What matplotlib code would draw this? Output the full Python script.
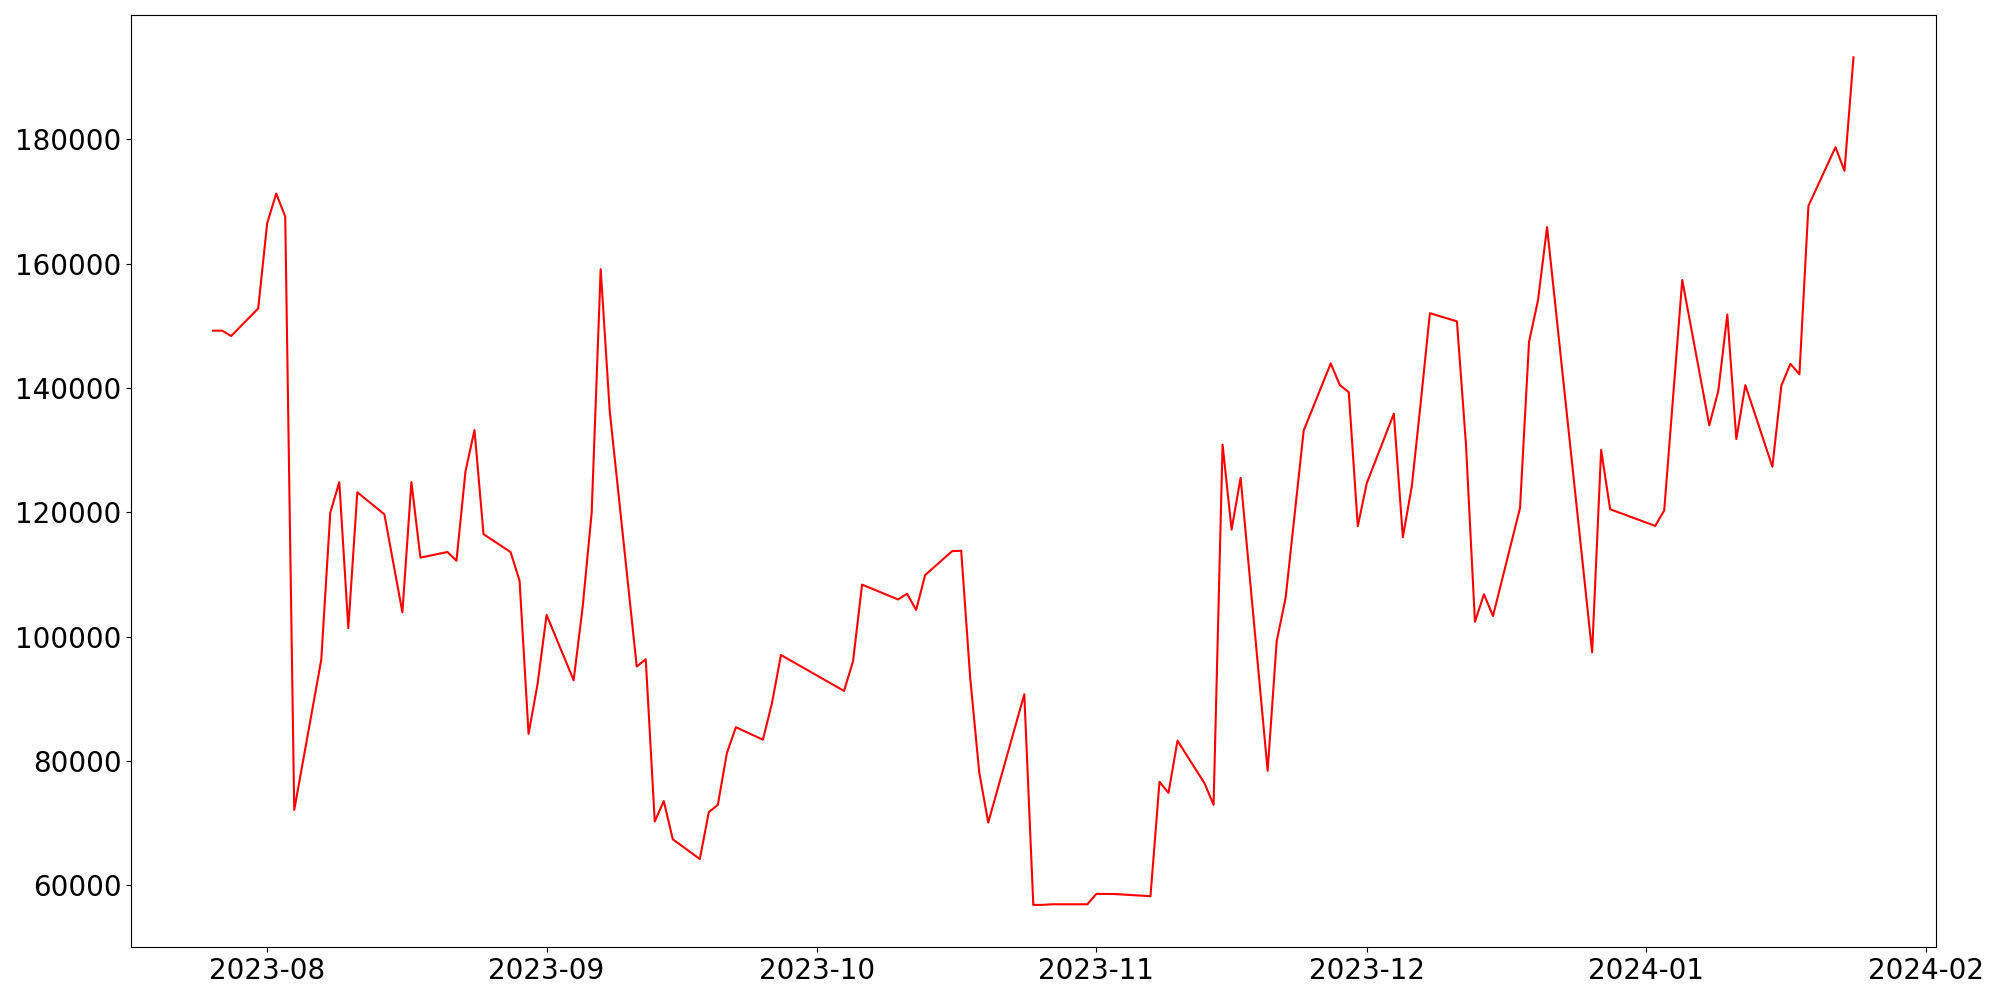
import matplotlib
matplotlib.use("Agg")
import matplotlib.pyplot as plt
import matplotlib.dates as mdates
import pandas as pd

dates = [
    "2023-07-26", "2023-07-27", "2023-07-28", "2023-07-31", "2023-08-01", "2023-08-02",
    "2023-08-03", "2023-08-04", "2023-08-07", "2023-08-08", "2023-08-09", "2023-08-10",
    "2023-08-11", "2023-08-14", "2023-08-16", "2023-08-17", "2023-08-18", "2023-08-21",
    "2023-08-22", "2023-08-23", "2023-08-24", "2023-08-25", "2023-08-28", "2023-08-29",
    "2023-08-30", "2023-08-31", "2023-09-01", "2023-09-04", "2023-09-05", "2023-09-06",
    "2023-09-07", "2023-09-08", "2023-09-11", "2023-09-12", "2023-09-13", "2023-09-14",
    "2023-09-15", "2023-09-18", "2023-09-19", "2023-09-20", "2023-09-21", "2023-09-22",
    "2023-09-25", "2023-09-26", "2023-09-27", "2023-10-04", "2023-10-05", "2023-10-06",
    "2023-10-10", "2023-10-11", "2023-10-12", "2023-10-13", "2023-10-16", "2023-10-17",
    "2023-10-18", "2023-10-19", "2023-10-20", "2023-10-24", "2023-10-25", "2023-10-26",
    "2023-10-27", "2023-10-31", "2023-11-01", "2023-11-03", "2023-11-07", "2023-11-08",
    "2023-11-09", "2023-11-10", "2023-11-13", "2023-11-14", "2023-11-15", "2023-11-16",
    "2023-11-17", "2023-11-20", "2023-11-21", "2023-11-22", "2023-11-24", "2023-11-27",
    "2023-11-28", "2023-11-29", "2023-11-30", "2023-12-01", "2023-12-04", "2023-12-05",
    "2023-12-06", "2023-12-07", "2023-12-08", "2023-12-11", "2023-12-12", "2023-12-13",
    "2023-12-14", "2023-12-15", "2023-12-18", "2023-12-19", "2023-12-20", "2023-12-21",
    "2023-12-26", "2023-12-27", "2023-12-28", "2024-01-02", "2024-01-03", "2024-01-05",
    "2024-01-08", "2024-01-09", "2024-01-10", "2024-01-11", "2024-01-12", "2024-01-15",
    "2024-01-16", "2024-01-17", "2024-01-18", "2024-01-19", "2024-01-22", "2024-01-23",
    "2024-01-24",
]

values = [
    149200, 149200, 148340, 152760, 166480, 171250,
    167560, 72120, 96270, 119930, 124850, 101350,
    123210, 119670, 103910, 124850, 112700, 113600,
    112200, 126570, 133220, 116470, 113600, 109000,
    84350, 92400, 103490, 92980, 104730, 119930,
    159090, 136350, 95190, 96350, 70250, 73550,
    67400, 64230, 71780, 72940, 81270, 85420,
    83420, 89260, 97040, 91260, 96040, 108360,
    105970, 106890, 104280, 109900, 113750, 113800,
    93340, 78170, 70100, 90730, 56850, 56850,
    56950, 56950, 58620, 58600, 58250, 76640,
    74870, 83260, 76400, 72940, 130840, 117210,
    125530, 78410, 99200, 106280, 133140, 143930,
    140470, 139310, 117750, 124680, 135850, 115980,
    124230, 137840, 152010, 150700, 131020, 102370,
    106810, 103300, 120670, 147370, 154120, 165850,
    97470, 130020, 120480, 117800, 120300, 157350,
    133980, 139520, 151800, 131760, 140440, 127320,
    140380, 143860, 142190, 169270, 178700, 174910,
    193150,
]

x = pd.to_datetime(dates)

fig, ax = plt.subplots(figsize=(20, 10), dpi=100)
ax.plot(x, values, color="red", linewidth=1.5)
ax.xaxis.set_major_locator(mdates.MonthLocator())
ax.xaxis.set_major_formatter(mdates.DateFormatter("%Y-%m"))
ax.tick_params(axis="both", labelsize=20)
fig.tight_layout()
fig.savefig("out.png", dpi=100)
